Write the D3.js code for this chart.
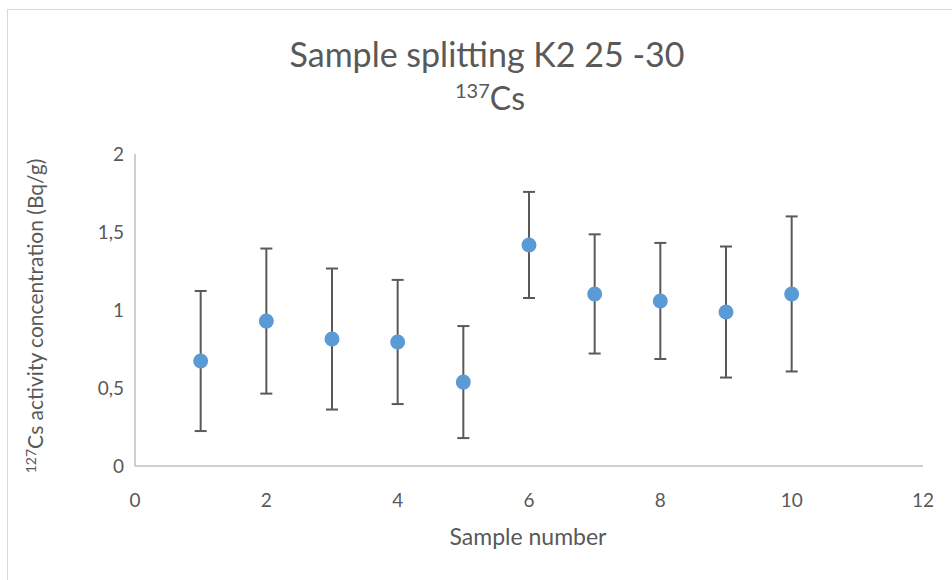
<!doctype html>
<html>
  <head>
    <script src="https://cdn.jsdelivr.net/npm/d3@7"></script>
    <style>
      body { margin: 0; background: #fff; }
      svg text { font-family: Lato, "Open Sans", sans-serif; fill: #595959; }
    </style>
  </head>
  <body>
    <div id="chart"></div>
    <script>
      // data
      var samples = [1, 2, 3, 4, 5, 6, 7, 8, 9, 10];
      var activity = [0.673, 0.929, 0.814, 0.795, 0.538, 1.417, 1.103, 1.058, 0.987, 1.103];
      var errors = [0.449, 0.465, 0.452, 0.398, 0.359, 0.340, 0.382, 0.372, 0.420, 0.497];
      var xTicks = [0, 2, 4, 6, 8, 10, 12];
      var yTicks = [0, 0.5, 1, 1.5, 2];

      var W = 952, H = 580;
      var margin = {top: 154, right: 29, bottom: 114, left: 135};

      var svg = d3.select("#chart").append("svg")
        .attr("width", W).attr("height", H);

      // chart border
      svg.append("rect")
        .attr("x", 7.5).attr("y", 9.5)
        .attr("width", W).attr("height", H)
        .attr("fill", "none").attr("stroke", "#d9d9d9");

      var x = d3.scaleLinear().domain([0, 12]).range([margin.left, W - margin.right]);
      var y = d3.scaleLinear().domain([0, 2]).range([H - margin.bottom, margin.top]);

      // axes lines
      svg.append("line")
        .attr("x1", x(0)).attr("x2", x(12))
        .attr("y1", y(0)).attr("y2", y(0))
        .attr("stroke", "#bfbfbf").attr("stroke-width", 1.5);
      svg.append("line")
        .attr("x1", x(0)).attr("x2", x(0))
        .attr("y1", y(0)).attr("y2", y(2))
        .attr("stroke", "#bfbfbf").attr("stroke-width", 1.5);

      // tick labels
      var fmt = function(v) { return String(v).replace(".", ","); };
      svg.selectAll(".xt").data(xTicks).enter().append("text")
        .attr("x", function(d) { return x(d); })
        .attr("y", y(0) + 41)
        .attr("text-anchor", "middle")
        .style("font-size", "19px")
        .text(fmt);
      svg.selectAll(".yt").data(yTicks).enter().append("text")
        .attr("x", x(0) - 11)
        .attr("y", function(d) { return y(d) + 7; })
        .attr("text-anchor", "end")
        .style("font-size", "19px")
        .text(fmt);

      // error bars
      var eb = svg.selectAll(".eb").data(samples).enter().append("g")
        .attr("stroke", "#595959").attr("stroke-width", 2);
      eb.append("line")
        .attr("x1", function(d) { return x(d); })
        .attr("x2", function(d) { return x(d); })
        .attr("y1", function(d, i) { return y(activity[i] + errors[i]); })
        .attr("y2", function(d, i) { return y(activity[i] - errors[i]); });
      eb.append("line")
        .attr("x1", function(d) { return x(d) - 6; })
        .attr("x2", function(d) { return x(d) + 6; })
        .attr("y1", function(d, i) { return y(activity[i] + errors[i]); })
        .attr("y2", function(d, i) { return y(activity[i] + errors[i]); });
      eb.append("line")
        .attr("x1", function(d) { return x(d) - 6; })
        .attr("x2", function(d) { return x(d) + 6; })
        .attr("y1", function(d, i) { return y(activity[i] - errors[i]); })
        .attr("y2", function(d, i) { return y(activity[i] - errors[i]); });

      // points
      svg.selectAll(".pt").data(samples).enter().append("circle")
        .attr("cx", function(d) { return x(d); })
        .attr("cy", function(d, i) { return y(activity[i]); })
        .attr("r", 7.5)
        .attr("fill", "#5b9bd5");

      // title
      svg.append("text")
        .attr("x", 487).attr("y", 67)
        .attr("text-anchor", "middle")
        .style("font-size", "34px")
        .text("Sample splitting K2 25 -30");
      var t2 = svg.append("text")
        .attr("x", 490).attr("y", 110)
        .attr("text-anchor", "middle")
        .style("font-size", "32px");
      t2.append("tspan").attr("dy", -12).style("font-size", "20px").text("137");
      t2.append("tspan").attr("dy", 12).text("Cs");

      // axis titles
      svg.append("text")
        .attr("x", 528).attr("y", 545)
        .attr("text-anchor", "middle")
        .style("font-size", "23px")
        .text("Sample number");
      var yl = svg.append("text")
        .attr("transform", "translate(43,316) rotate(-90)")
        .attr("text-anchor", "middle")
        .style("font-size", "21px");
      yl.append("tspan").attr("dy", -7).style("font-size", "14px").text("127");
      yl.append("tspan").attr("dy", 7).text("Cs activity concentration (Bq/g)");
    </script>
  </body>
</html>
